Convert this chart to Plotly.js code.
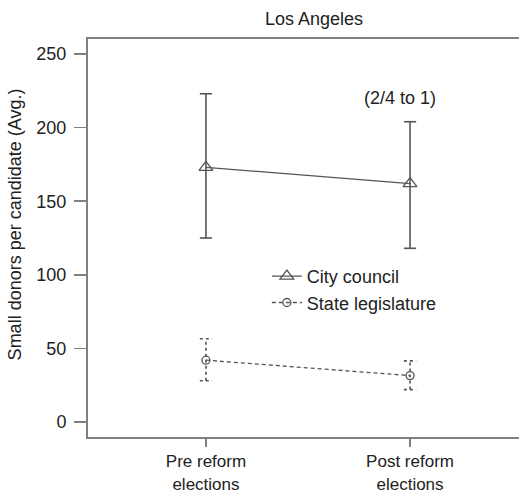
<!DOCTYPE html>
<html><head><meta charset="utf-8">
<script src="https://cdn.plot.ly/plotly-3.0.1.min.js"></script>
<style>html,body{margin:0;padding:0;background:#fff;}#chart{width:519px;height:493px;}</style>
</head><body><div id="chart"></div>
<script>
const categories = ["Pre reform<br>elections", "Post reform<br>elections"];
const xPos = [0, 1];
const cityMean = [173, 162];
const cityLow = [125, 118];
const cityHigh = [223, 204];
const stateMean = [42, 31.5];
const stateLow = [28, 22];
const stateHigh = [56.5, 41.5];
const noteText = "(2/4 to 1)";
const yTicks = [0, 50, 100, 150, 200, 250];

const col = "#555555";
const capW = 0.03;

function errTrace(low, high, dash) {
  const xs = [], ys = [];
  for (let i = 0; i < xPos.length; i++) {
    xs.push(xPos[i], xPos[i], null);
    ys.push(low[i], high[i], null);
    xs.push(xPos[i] - capW, xPos[i] + capW, null);
    ys.push(low[i], low[i], null);
    xs.push(xPos[i] - capW, xPos[i] + capW, null);
    ys.push(high[i], high[i], null);
  }
  return {x: xs, y: ys, mode: "lines", showlegend: false, hoverinfo: "skip",
          line: {color: col, width: 1.6, dash: dash}};
}

const traces = [
  errTrace(cityLow, cityHigh, "solid"),
  errTrace(stateLow, stateHigh, "3px,3px"),
  {x: xPos, y: cityMean, name: "City council", mode: "lines+markers",
   line: {color: col, width: 1.3},
   marker: {symbol: "triangle-up-open", size: 12, color: col, line: {width: 1.3}}},
  {x: xPos, y: stateMean, name: "State legislature", mode: "lines+markers",
   line: {color: col, width: 1.3, dash: "4px,3px"},
   marker: {symbol: "circle-open", size: 8, color: col, line: {width: 1.3}}}
];

const txt = "#222";
const layout = {
  width: 519, height: 493,
  margin: {l: 88, r: 0, t: 39, b: 56},
  paper_bgcolor: "#fff", plot_bgcolor: "#fff",
  font: {family: "Liberation Sans, Arial, sans-serif", size: 18, color: txt},
  showlegend: true,
  legend: {x: 0.415, y: 0.45, xanchor: "left", yanchor: "top", bgcolor: "rgba(0,0,0,0)",
           font: {size: 18, color: txt}, tracegroupgap: 0, itemwidth: 30},
  xaxis: {range: [-0.578, 1.534], tickvals: xPos, ticktext: categories,
          showgrid: false, zeroline: false, showline: true, linecolor: "#808080", linewidth: 2,
          mirror: true, ticks: "outside", ticklen: 8, tickcolor: "#808080", tickwidth: 1.5,
          tickfont: {size: 17, color: txt}},
  yaxis: {range: [-10.2, 260.2], tickvals: yTicks,
          showgrid: false, zeroline: false, showline: true, linecolor: "#808080", linewidth: 2,
          mirror: false, ticks: "outside", ticklen: 12, tickcolor: "#808080", tickwidth: 1.5,
          ticklabelstandoff: 4,
          tickfont: {size: 18, color: txt}},
  annotations: [
    {text: "Los Angeles", xref: "paper", yref: "paper", x: 0.524, y: 1, yshift: 20,
     showarrow: false, font: {size: 18, color: txt}, yanchor: "middle", xanchor: "center"},
    {text: "Small donors per candidate (Avg.)", xref: "paper", yref: "paper",
     x: -0.1705, y: 0.533, textangle: -90, showarrow: false,
     font: {size: 18, color: txt}, xanchor: "center", yanchor: "middle"},
    {text: noteText, x: 0.95, y: 220, showarrow: false, font: {size: 18, color: txt}}
  ]
};

Plotly.newPlot("chart", traces, layout, {displayModeBar: false, staticPlot: true});
</script></body></html>
